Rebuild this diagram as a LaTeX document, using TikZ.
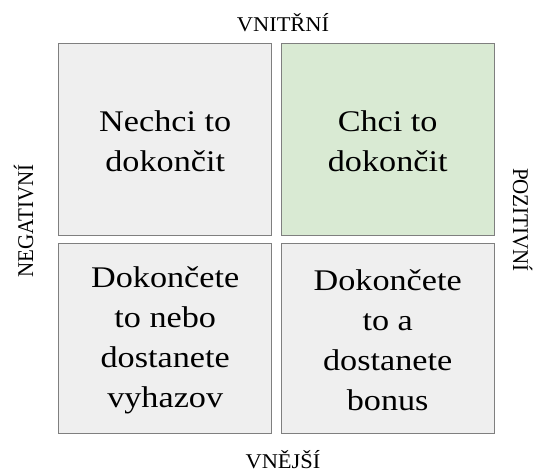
\documentclass[tikz,border=0pt]{standalone}
\usepackage{fontspec}
\setmainfont{Liberation Serif}
\definecolor{boxgray}{HTML}{EFEFEF}
\definecolor{boxgreen}{HTML}{D9EAD3}
\definecolor{edgegray}{HTML}{7F7F7F}
\tikzset{
  quad/.style={draw=edgegray, line width=1.4pt, fill=boxgray, anchor=north west,
    minimum width=213pt, minimum height=192pt, inner sep=0pt},
  quadtext/.style={align=center, xscale=1.14, inner sep=0pt,
    font=\fontsize{30}{40}\selectfont},
  axislabel/.style={anchor=base, inner sep=0pt, xscale=1.07, font=\fontsize{21}{24}\selectfont}
}
\begin{document}
\begin{tikzpicture}[x=1pt,y=-1pt]
\useasboundingbox (0,0) rectangle (533,472);
\node[quad] (tl) at (58,43) {};
\node[quad, fill=boxgreen] (tr) at (280.5,43) {};
\node[quad, minimum height=190pt] (bl) at (58,242.5) {};
\node[quad, minimum height=190pt] (br) at (280.5,242.5) {};
\node[quadtext] (tltext) at ([yshift=-2pt]tl.center) {Nechci to\\dokončit};
\node[quadtext] (trtext) at ([yshift=-2pt]tr.center) {Chci to\\dokončit};
\node[quadtext] (bltext) at ([yshift=-2pt]bl.center) {Dokončete\\to nebo\\dostanete\\vyhazov};
\node[quadtext] (brtext) at ([yshift=-2pt]br.center) {Dokončete\\to a\\dostanete\\bonus};
\node[axislabel] (top) at (283,31.5) {VNITŘNÍ};
\node[axislabel] (bottom) at (283,468.5) {VNĚJŠÍ};
\node[axislabel, rotate=90] (left) at (33,221) {NEGATIVNÍ};
\node[axislabel, rotate=-90] (right) at (513,220) {POZITIVNÍ};
\end{tikzpicture}
\end{document}
